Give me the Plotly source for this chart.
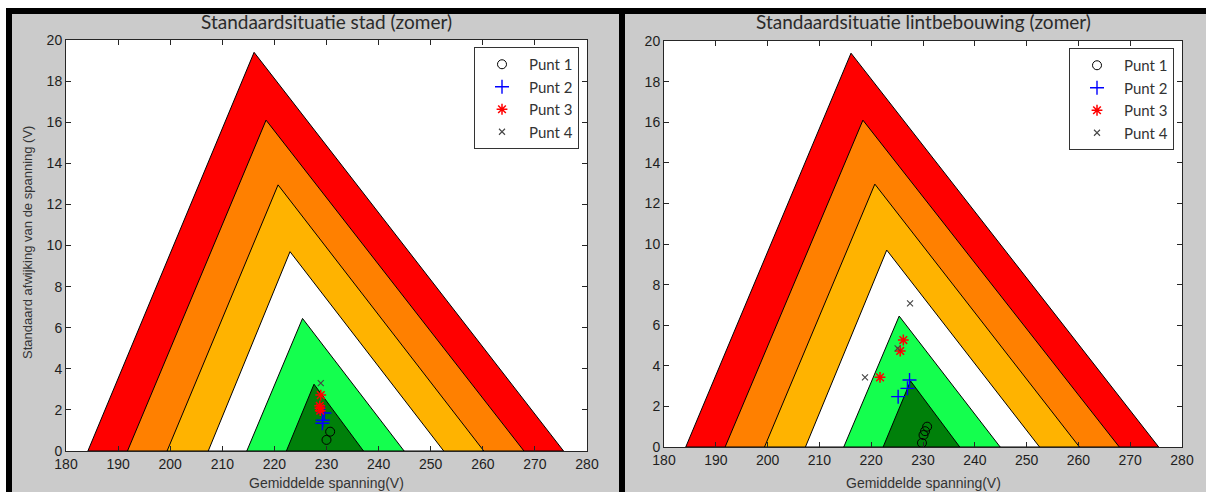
import plotly.graph_objects as go

# Voltage-quality zones: nested triangles (mean voltage vs. standard deviation)
band_colors = ["#FF0000", "#FF8000", "#FFB300", "#FFFFFF", "#14FF4E", "#00800A"]
tri_left_v = [184.2, 191.8, 199.4, 207.3, 214.7, 222.3]
tri_right_v = [275.5, 267.9, 260.2, 252.5, 244.9, 237.1]
apex_v = [216.1, 218.4, 220.7, 223.0, 225.4, 227.6]
apex_sd = [19.4, 16.1, 12.95, 9.7, 6.45, 3.25]

# Measurement points, "stad" scenario
stad_p1_v = [230.7, 230.0]
stad_p1_sd = [0.94, 0.54]
stad_p2_v = [229.6, 229.2, 229.3]
stad_p2_sd = [1.85, 1.35, 1.5]
stad_p3_v = [228.9, 228.75, 228.8, 228.7]
stad_p3_sd = [2.72, 2.08, 1.96, 2.2]
stad_p4_v = [228.9]
stad_p4_sd = [3.3]

# Measurement points, "lintbebouwing" scenario
lint_p1_v = [230.8, 230.4, 230.1, 229.8]
lint_p1_sd = [1.0, 0.78, 0.59, 0.2]
lint_p2_v = [227.4, 227.0, 225.2]
lint_p2_sd = [3.3, 2.89, 2.48]
lint_p3_v = [226.2, 225.6, 221.7]
lint_p3_sd = [5.27, 4.73, 3.43]
lint_p4_v = [227.5, 218.8, 225.1]
lint_p4_sd = [7.08, 3.43, 4.86]

x_ticks = list(range(180, 281, 10))
y_ticks = list(range(0, 21, 2))

titles = ["Standaardsituatie stad (zomer)", "Standaardsituatie lintbebouwing (zomer)"]
x_title = "Gemiddelde spanning(V)"
y_title = "Standaard afwijking van de spanning (V)"
series_names = ["Punt 1", "Punt 2", "Punt 3", "Punt 4"]

W, H = 1206, 492
BG = "#CBCBCB"
TXT = "#2a2a2a"

fig = go.Figure()

def add_panel(idx, p1, p2, p3, p4, legend_name):
    xa = "x" if idx == 0 else "x2"
    ya = "y" if idx == 0 else "y2"
    for k in range(len(band_colors)):
        fig.add_trace(go.Scatter(
            x=[tri_left_v[k], apex_v[k], tri_right_v[k], tri_left_v[k]],
            y=[0, apex_sd[k], 0, 0],
            mode="lines", fill="toself", fillcolor=band_colors[k],
            line=dict(color="#000000", width=1),
            hoverinfo="skip", showlegend=False, xaxis=xa, yaxis=ya))
    styles = [
        dict(symbol="circle-open", size=9, color="#000000", line=dict(width=1, color="#000000")),
        dict(symbol="cross-thin-open", size=10, color="#0000FF", line=dict(width=1.4, color="#0000FF")),
        dict(symbol="asterisk-open", size=9, color="#FF0000", line=dict(width=1.5, color="#FF0000")),
        dict(symbol="x-thin-open", size=6, color="#444444", line=dict(width=1.1, color="#444444")),
    ]
    for name, (vx, vy), st in zip(series_names, [p1, p2, p3, p4], styles):
        fig.add_trace(go.Scatter(x=vx, y=vy, mode="markers", name=name, marker=st,
                                 xaxis=xa, yaxis=ya, legend=legend_name))

add_panel(0, (stad_p1_v, stad_p1_sd), (stad_p2_v, stad_p2_sd),
          (stad_p3_v, stad_p3_sd), (stad_p4_v, stad_p4_sd), "legend")
add_panel(1, (lint_p1_v, lint_p1_sd), (lint_p2_v, lint_p2_sd),
          (lint_p3_v, lint_p3_sd), (lint_p4_v, lint_p4_sd), "legend2")

# plot-area boxes in pixels: (left, right, top, bottom)
boxes = [(66, 587, 40, 451), (664, 1182, 41, 447)]

def px_x(p):
    return p / W

def px_y(p):
    return 1 - p / H

axis_common = dict(
    showline=True, linecolor="#262626", linewidth=1, mirror="ticks",
    ticks="inside", ticklen=5, tickcolor="#262626",
    showgrid=False, zeroline=False, automargin=False,
    tickfont=dict(family="Liberation Sans", size=14, color="#1e1e1e"),
)

layout = dict(
    width=W, height=H, margin=dict(l=0, r=0, t=0, b=0, pad=0),
    paper_bgcolor=BG, plot_bgcolor="#FFFFFF",
    showlegend=True,
)
for i, (l, r, t, b) in enumerate(boxes):
    sfx = "" if i == 0 else "2"
    layout["xaxis" + sfx] = dict(axis_common, domain=[px_x(l), px_x(r)], range=[180, 280],
                                 tickvals=x_ticks, anchor="y" + sfx)
    layout["yaxis" + sfx] = dict(axis_common, domain=[px_y(b), px_y(t)], range=[0, 20],
                                 tickvals=y_ticks, anchor="x" + sfx)
    layout["legend" + sfx] = dict(
        x=px_x(r - 8), y=px_y(t + 7), xanchor="right", yanchor="top",
        bgcolor="#FFFFFF", bordercolor="#333333", borderwidth=1,
        font=dict(family="Lato", size=15, color="#333333"),
        itemwidth=44, tracegroupgap=0,
    )
fig.update_layout(**layout)

annotations = []
for i, (l, r, t, b) in enumerate(boxes):
    cx = px_x((l + r) / 2)
    annotations.append(dict(text=titles[i], x=cx, y=px_y(22), xref="paper", yref="paper",
                            showarrow=False, xanchor="center", yanchor="middle",
                            font=dict(family="Lato", size=19, color=TXT)))
    annotations.append(dict(text=x_title, x=cx, y=px_y(483), xref="paper", yref="paper",
                            showarrow=False, xanchor="center", yanchor="middle",
                            font=dict(family="Liberation Sans", size=14, color="#333333")))
annotations.append(dict(text=y_title, x=px_x(27), y=px_y(243), xref="paper", yref="paper",
                        showarrow=False, textangle=-90, xanchor="center", yanchor="middle",
                        font=dict(family="Liberation Sans", size=13, color="#333333")))
fig.update_layout(annotations=annotations)

# window frame: white outer strips and black borders
def rect(x0, x1, y0, y1, color):
    return dict(type="rect", xref="paper", yref="paper",
                x0=px_x(x0), x1=px_x(x1), y0=px_y(y1), y1=px_y(y0),
                fillcolor=color, line=dict(width=0), layer="above")

fig.update_layout(shapes=[
    rect(0, W, 0, 8, "#FFFFFF"),
    rect(0, 6, 0, H, "#FFFFFF"),
    rect(6, W, 8, 14, "#000000"),
    rect(6, 12, 8, H, "#000000"),
    rect(619, 625, 8, H, "#000000"),
])

fig.write_html("out.html")
